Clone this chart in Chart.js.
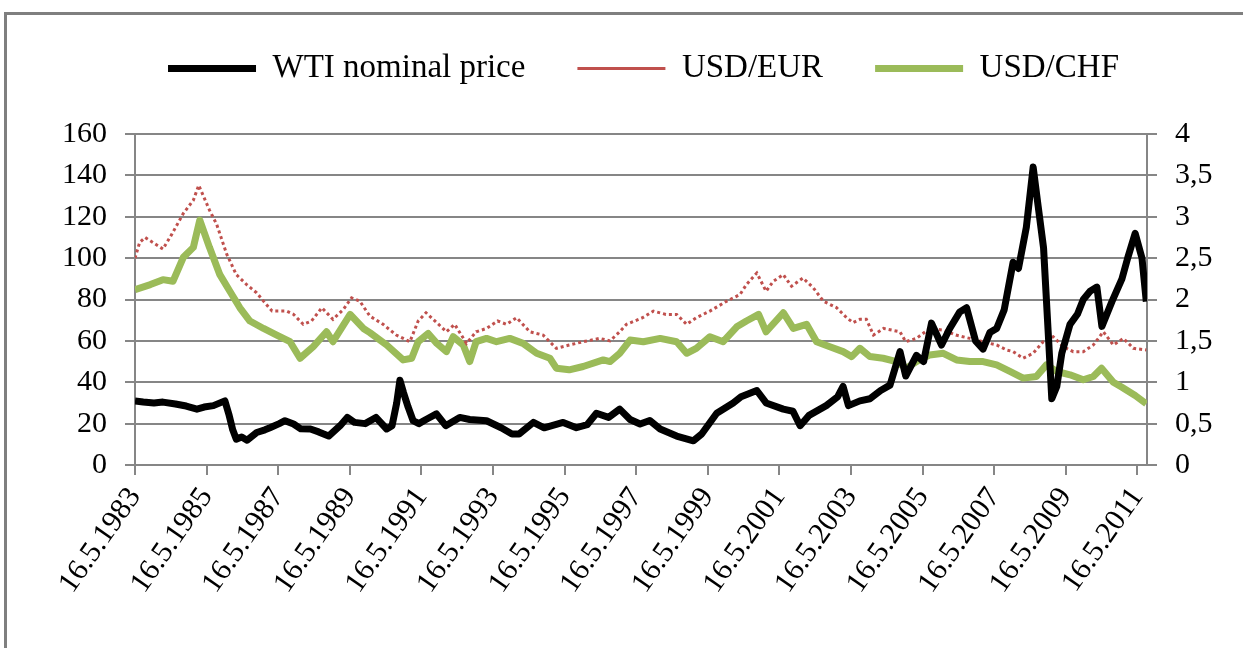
<!DOCTYPE html>
<html>
<head>
<meta charset="utf-8">
<script src="https://cdn.jsdelivr.net/npm/chart.js@4.4.1/dist/chart.umd.min.js"></script>
<style>
  html, body { margin: 0; padding: 0; background: #fff; }
  #wrap { position: relative; width: 1243px; height: 648px; overflow: hidden; }
  #frame { position: absolute; left: 4px; top: 12px; width: 1260px; height: 660px;
           border-top: 3px solid #7f7f7f; border-left: 3px solid #7f7f7f; box-sizing: border-box; }
  canvas { position: absolute; left: 0; top: 0; }
</style>
</head>
<body>
<div id="wrap">
  <div id="frame"></div>
  <canvas id="c" width="1243" height="648"></canvas>
</div>
<script>
// ---- data (fractional years) ----
const seriesNames = ['WTI nominal price', 'USD/EUR', 'USD/CHF'];

const wtiYears = [1983.37,1983.6,1983.9,1984.15,1984.5,1984.8,1985.1,1985.3,1985.56,1985.88,1986.0,1986.1,1986.2,1986.35,1986.5,1986.77,1987.0,1987.14,1987.4,1987.56,1987.8,1988.0,1988.27,1988.5,1988.78,1989.1,1989.3,1989.5,1989.8,1990.1,1990.4,1990.55,1990.68,1990.77,1990.87,1991.0,1991.14,1991.3,1991.5,1991.79,1992.05,1992.44,1992.72,1993.19,1993.6,1993.9,1994.1,1994.5,1994.8,1995.33,1995.7,1996.0,1996.26,1996.6,1996.91,1997.2,1997.48,1997.75,1998.04,1998.5,1998.97,1999.2,1999.62,2000.08,2000.3,2000.74,2001.0,2001.48,2001.75,2001.95,2002.2,2002.68,2003.0,2003.15,2003.3,2003.62,2003.9,2004.2,2004.46,2004.74,2004.9,2005.2,2005.4,2005.62,2005.9,2006.13,2006.41,2006.6,2006.85,2007.06,2007.25,2007.44,2007.65,2007.9,2008.05,2008.27,2008.46,2008.6,2008.75,2008.89,2008.98,2009.12,2009.26,2009.49,2009.7,2009.86,2010.05,2010.24,2010.38,2010.66,2010.94,2011.1,2011.31,2011.5,2011.62];
const wtiPrice = [31,30.5,30,30.4,29.5,28.5,27,28,28.7,31,24,17,12.5,13.5,12,15.7,17,18,20,21.4,19.8,17.5,17.4,16,14,19,23,20.6,20,23,17.4,19,30,41,35,28,21.4,20,22,24.7,19,23,22,21.4,18,15,15,20.6,18,20.6,18,19.5,25,23,27,22,19.8,21.5,17.4,14,11.7,15,25,30,33,36,30,27,26,19,24,28.7,33,38,28.7,31,32,36,38.6,54.8,43,53,50,68.6,58,66,74,76,60,56,64,66,75,98,95,115,144,125,105,61,32,38,54,68,73,80,84,86,67,79,90,100,112,100,79];

const eurYears = [1983.37,1983.5,1983.65,1984.15,1984.4,1984.72,1985.0,1985.15,1985.45,1985.65,1985.93,1986.2,1986.49,1986.77,1986.96,1987.2,1987.6,1987.8,1988.07,1988.3,1988.59,1988.9,1989.19,1989.42,1989.65,1989.93,1990.3,1990.67,1991.05,1991.28,1991.5,1991.8,1992.07,1992.3,1992.63,1992.9,1993.19,1993.5,1993.75,1994.03,1994.4,1994.77,1995.14,1995.5,1995.89,1996.35,1996.64,1996.91,1997.1,1997.55,1997.85,1998.2,1998.5,1998.78,1999.05,1999.43,1999.9,2000.27,2000.45,2000.74,2001.0,2001.2,2001.48,2001.71,2002.03,2002.32,2002.6,2002.97,2003.25,2003.43,2003.62,2003.8,2004.0,2004.28,2004.74,2004.9,2005.2,2005.57,2005.95,2006.3,2006.69,2007.06,2007.44,2007.72,2007.9,2008.18,2008.46,2008.74,2009.02,2009.3,2009.58,2009.86,2010.14,2010.42,2010.7,2010.98,2011.26,2011.62];
const usdEur = [2.5,2.69,2.75,2.61,2.79,3.04,3.2,3.38,3.08,2.91,2.55,2.3,2.18,2.08,1.98,1.86,1.86,1.82,1.7,1.74,1.9,1.76,1.88,2.02,1.98,1.8,1.7,1.57,1.49,1.74,1.84,1.72,1.61,1.7,1.47,1.61,1.65,1.74,1.7,1.78,1.61,1.57,1.41,1.45,1.49,1.53,1.5,1.61,1.7,1.78,1.86,1.82,1.82,1.7,1.78,1.86,1.98,2.06,2.18,2.32,2.1,2.22,2.3,2.16,2.26,2.14,1.98,1.9,1.78,1.72,1.76,1.76,1.57,1.65,1.61,1.49,1.53,1.65,1.63,1.57,1.53,1.49,1.45,1.39,1.37,1.29,1.35,1.49,1.55,1.43,1.37,1.37,1.45,1.61,1.45,1.53,1.41,1.39];

const chfYears = [1983.37,1983.8,1984.15,1984.43,1984.72,1985.0,1985.18,1985.45,1985.74,1986.02,1986.3,1986.58,1986.96,1987.33,1987.7,1987.98,1988.35,1988.72,1988.9,1989.38,1989.75,1989.93,1990.4,1990.86,1991.1,1991.28,1991.56,1991.8,1992.07,1992.26,1992.54,1992.72,1992.9,1993.19,1993.47,1993.84,1994.21,1994.59,1994.96,1995.14,1995.5,1995.89,1996.45,1996.64,1996.91,1997.2,1997.57,1998.04,1998.5,1998.78,1999.05,1999.43,1999.8,2000.18,2000.45,2000.79,2001.0,2001.48,2001.76,2002.13,2002.41,2002.78,2003.15,2003.39,2003.62,2003.9,2004.27,2004.64,2004.92,2005.2,2005.57,2005.95,2006.32,2006.69,2007.06,2007.44,2007.81,2008.18,2008.55,2008.83,2009.12,2009.49,2009.86,2010.14,2010.37,2010.7,2010.94,2011.31,2011.62];
const usdChf = [2.12,2.18,2.24,2.22,2.51,2.63,2.96,2.63,2.3,2.1,1.9,1.74,1.65,1.57,1.49,1.29,1.43,1.61,1.49,1.82,1.65,1.6,1.45,1.27,1.29,1.49,1.59,1.47,1.37,1.55,1.45,1.25,1.49,1.53,1.49,1.53,1.47,1.35,1.29,1.17,1.15,1.19,1.27,1.25,1.35,1.51,1.49,1.53,1.49,1.35,1.41,1.55,1.49,1.67,1.74,1.82,1.61,1.84,1.65,1.7,1.49,1.43,1.37,1.31,1.41,1.31,1.29,1.25,1.17,1.25,1.33,1.35,1.27,1.25,1.25,1.21,1.13,1.05,1.07,1.21,1.13,1.09,1.03,1.07,1.17,1.0,0.94,0.84,0.74];

const xTickYears = [1983.37,1985.37,1987.37,1989.37,1991.37,1993.37,1995.37,1997.37,1999.37,2001.37,2003.37,2005.37,2007.37,2009.37,2011.37];
const xTickLabels = ['16.5.1983','16.5.1985','16.5.1987','16.5.1989','16.5.1991','16.5.1993','16.5.1995','16.5.1997','16.5.1999','16.5.2001','16.5.2003','16.5.2005','16.5.2007','16.5.2009','16.5.2011'];

const toPts = (xs, ys) => xs.map((x, i) => ({x: x, y: ys[i]}));

const FONT = "'Liberation Serif', 'DejaVu Serif', serif";
const GRID = '#868686';
const PAD_LEFT = 44;

new Chart(document.getElementById('c'), {
  type: 'line',
  data: {
    datasets: [
      { label: seriesNames[0], data: toPts(wtiYears, wtiPrice), yAxisID: 'y',
        borderColor: '#000000', backgroundColor: '#000000', borderWidth: 7, borderJoinStyle: 'round',
        pointRadius: 0, tension: 0 },
      { label: seriesNames[1], data: toPts(eurYears, usdEur), yAxisID: 'y2',
        borderColor: '#c0504d', backgroundColor: '#c0504d', borderWidth: 3, borderDash: [3, 3],
        pointRadius: 0, tension: 0 },
      { label: seriesNames[2], data: toPts(chfYears, usdChf), yAxisID: 'y2',
        borderColor: '#9bbb59', backgroundColor: '#9bbb59', borderWidth: 7, borderJoinStyle: 'round',
        pointRadius: 0, tension: 0 }
    ]
  },
  options: {
    responsive: false,
    animation: false,
    layout: { padding: { left: PAD_LEFT, right: 0, top: 0, bottom: 0 } },
    plugins: {
      tooltip: { enabled: false },
      legend: {
        position: 'top',
        labels: {
          usePointStyle: true,
          pointStyle: 'line',
          pointStyleWidth: 88,
          color: '#000',
          padding: 52,
          font: { family: FONT, size: 33 }
        }
      },
      title: {
        display: true,
        text: '',
        weight: 0,
        position: 'top',
        font: { size: 10 },
        padding: { top: 0, bottom: 27 }
      }
    },
    scales: {
      x: {
        type: 'linear',
        min: 1983.37,
        max: 2011.64,
        afterBuildTicks: (s) => { s.ticks = xTickYears.map(v => ({value: v})); },
        afterFit: (s) => { s.height = 183; },
        ticks: {
          autoSkip: false,
          minRotation: 55,
          maxRotation: 55,
          padding: 6,
          color: '#000',
          font: { family: FONT, size: 30 },
          callback: (v, i) => xTickLabels[i]
        },
        grid: { drawOnChartArea: false, drawTicks: true, tickLength: 10, color: GRID, lineWidth: 2 },
        border: { display: true, color: GRID, width: 2 }
      },
      y: {
        position: 'left',
        min: 0, max: 160,
        afterFit: (s) => { s.width = 135 - PAD_LEFT; },
        ticks: { stepSize: 20, padding: 18, color: '#000', font: { family: FONT, size: 30 } },
        grid: { color: GRID, lineWidth: 2, tickLength: 10 },
        border: { display: true, color: GRID, width: 2 }
      },
      y2: {
        position: 'right',
        min: 0, max: 4,
        afterFit: (s) => { s.width = 96; },
        ticks: { stepSize: 0.5, padding: 18, color: '#000', font: { family: FONT, size: 30 },
                 callback: (v) => String(v).replace('.', ',') },
        grid: { drawOnChartArea: false, color: GRID, lineWidth: 2, tickLength: 10 },
        border: { display: true, color: GRID, width: 2 }
      }
    }
  }
});
</script>
</body>
</html>
